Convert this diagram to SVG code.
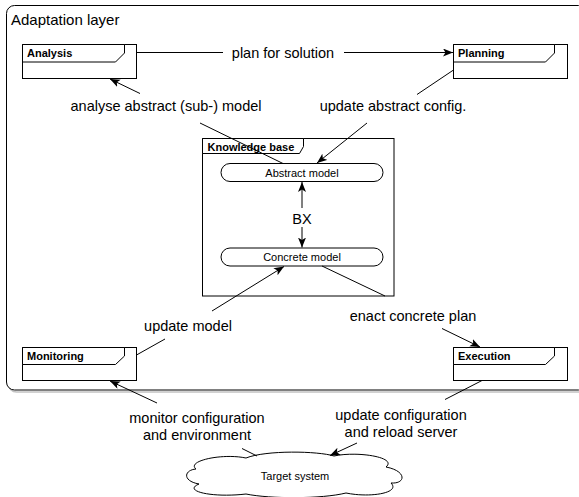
<svg xmlns="http://www.w3.org/2000/svg" width="579" height="497" viewBox="0 0 579 497">
<style>
  .box{fill:#fff;stroke:#000;stroke-width:1}
  .tab{fill:#fff;stroke:#000;stroke-width:1}
  .title{font-family:"Liberation Sans",Arial,sans-serif;font-size:11px;font-weight:bold;fill:#000}
  .small{font-family:"Liberation Sans",Arial,sans-serif;font-size:11px;fill:#000;text-anchor:middle}
  .lbl{font-family:"Liberation Sans",Arial,sans-serif;font-size:14.5px;fill:#000;text-anchor:middle}
  .edge{stroke:#000;stroke-width:1;fill:none}
  .arr{marker-end:url(#ah)}
</style>
<defs>
  <marker id="ah" markerUnits="userSpaceOnUse" markerWidth="12" markerHeight="10" refX="10" refY="4" orient="auto">
    <path d="M0,0 L10,4 L0,8 L2.5,4 Z" fill="#000"/>
  </marker>
</defs>

<g id="adaptation-layer">
  <rect x="8.5" y="7.5" width="580" height="384.5" rx="8" fill="none" stroke="#999" stroke-opacity="0.6" stroke-width="1.5"/>
  <rect x="6.5" y="5.5" width="580" height="384.5" rx="8" fill="#fff" stroke="#000" stroke-width="1"/>
  <text x="11" y="25" font-family="'Liberation Sans',Arial,sans-serif" font-size="15px">Adaptation layer</text>
</g>

<g id="knowledge-base">
  <rect class="box" x="202.5" y="138.5" width="191.5" height="157.5"/>
  <path class="tab" d="M202.5,138.5 H303.5 V146.5 L299.5,153.5 H202.5 Z"/>
  <text class="title" x="207.5" y="151">Knowledge base</text>
</g>

<g id="analysis">
  <rect class="box" x="22.5" y="44.5" width="114" height="34"/>
  <path class="tab" d="M22.5,44.5 H124.5 V53 L115.5,62 H22.5 Z"/>
  <text class="title" x="27" y="57">Analysis</text>
</g>

<g id="planning">
  <rect class="box" x="453.5" y="44.5" width="114" height="34"/>
  <path class="tab" d="M453.5,44.5 H554.5 V53 L545.5,62 H453.5 Z"/>
  <text class="title" x="458" y="57">Planning</text>
</g>

<g id="monitoring">
  <rect class="box" x="22.5" y="347.5" width="114" height="33"/>
  <path class="tab" d="M22.5,347.5 H124.5 V356 L115.5,364.5 H22.5 Z"/>
  <text class="title" x="27" y="360">Monitoring</text>
</g>

<g id="execution">
  <rect class="box" x="453.5" y="347.5" width="114" height="33"/>
  <path class="tab" d="M453.5,347.5 H554.5 V356 L545.5,364.5 H453.5 Z"/>
  <text class="title" x="458" y="360">Execution</text>
</g>

<g id="abstract-model">
  <rect class="box" x="221" y="163.5" width="162" height="18" rx="9"/>
  <text class="small" x="302" y="176.5">Abstract model</text>
</g>

<g id="concrete-model">
  <rect class="box" x="221" y="248" width="162" height="18" rx="9"/>
  <text class="small" x="302" y="261">Concrete model</text>
</g>

<g id="target-system">
  <path class="box" d="M196,469 C186,461 222,453 246,458 C266,450 318,451 334,456 C356,451 398,457 386,467 C407,471 406,484 391,483 C401,493 370,498 346,493 C322,499 270,499 246,494 C212,498 182,491 199,484 C182,481 184,470 196,469 Z"/>
  <text class="small" x="295" y="480">Target system</text>
</g>

<g id="connectors">
  <!-- Analysis -> Planning -->
  <line class="edge" x1="136.5" y1="52.5" x2="223" y2="52.5"/>
  <line class="edge arr" x1="344" y1="52.5" x2="453" y2="52.5"/>
  <text class="lbl" x="283" y="57.5">plan for solution</text>

  <!-- Abstract model -> Analysis -->
  <line class="edge" x1="283" y1="163.5" x2="200" y2="123"/>
  <line class="edge arr" x1="140" y1="93.5" x2="110" y2="79"/>
  <text class="lbl" x="166" y="111">analyse abstract (sub-) model</text>

  <!-- Planning -> Abstract model -->
  <line class="edge" x1="453.5" y1="70" x2="417" y2="94.5"/>
  <line class="edge arr" x1="367" y1="123" x2="317" y2="163"/>
  <text class="lbl" x="393" y="111">update abstract config.</text>

  <!-- BX -->
  <line class="edge arr" x1="302" y1="208" x2="302" y2="182"/>
  <line class="edge arr" x1="302" y1="227" x2="302" y2="247.5"/>
  <text class="lbl" x="302" y="224">BX</text>

  <!-- Monitoring -> Concrete model -->
  <line class="edge" x1="136.5" y1="355" x2="165" y2="339"/>
  <line class="edge arr" x1="212" y1="311" x2="284" y2="266.5"/>
  <text class="lbl" x="188" y="331">update model</text>

  <!-- Concrete model -> Execution -->
  <line class="edge" x1="322" y1="266" x2="385" y2="296"/>
  <line class="edge arr" x1="442" y1="328.5" x2="480" y2="347"/>
  <text class="lbl" x="413" y="321">enact concrete plan</text>

  <!-- Target system -> Monitoring -->
  <line class="edge" x1="257" y1="456" x2="242" y2="448.5"/>
  <line class="edge arr" x1="157" y1="403" x2="110" y2="381"/>
  <text class="lbl" x="197" y="423">monitor configuration</text>
  <text class="lbl" x="197" y="440">and environment</text>

  <!-- Execution -> Target system -->
  <line class="edge" x1="482" y1="380.5" x2="445" y2="399.5"/>
  <line class="edge arr" x1="357" y1="443" x2="330" y2="455.5"/>
  <text class="lbl" x="401" y="420">update configuration</text>
  <text class="lbl" x="401" y="437">and reload server</text>
</g>
</svg>
